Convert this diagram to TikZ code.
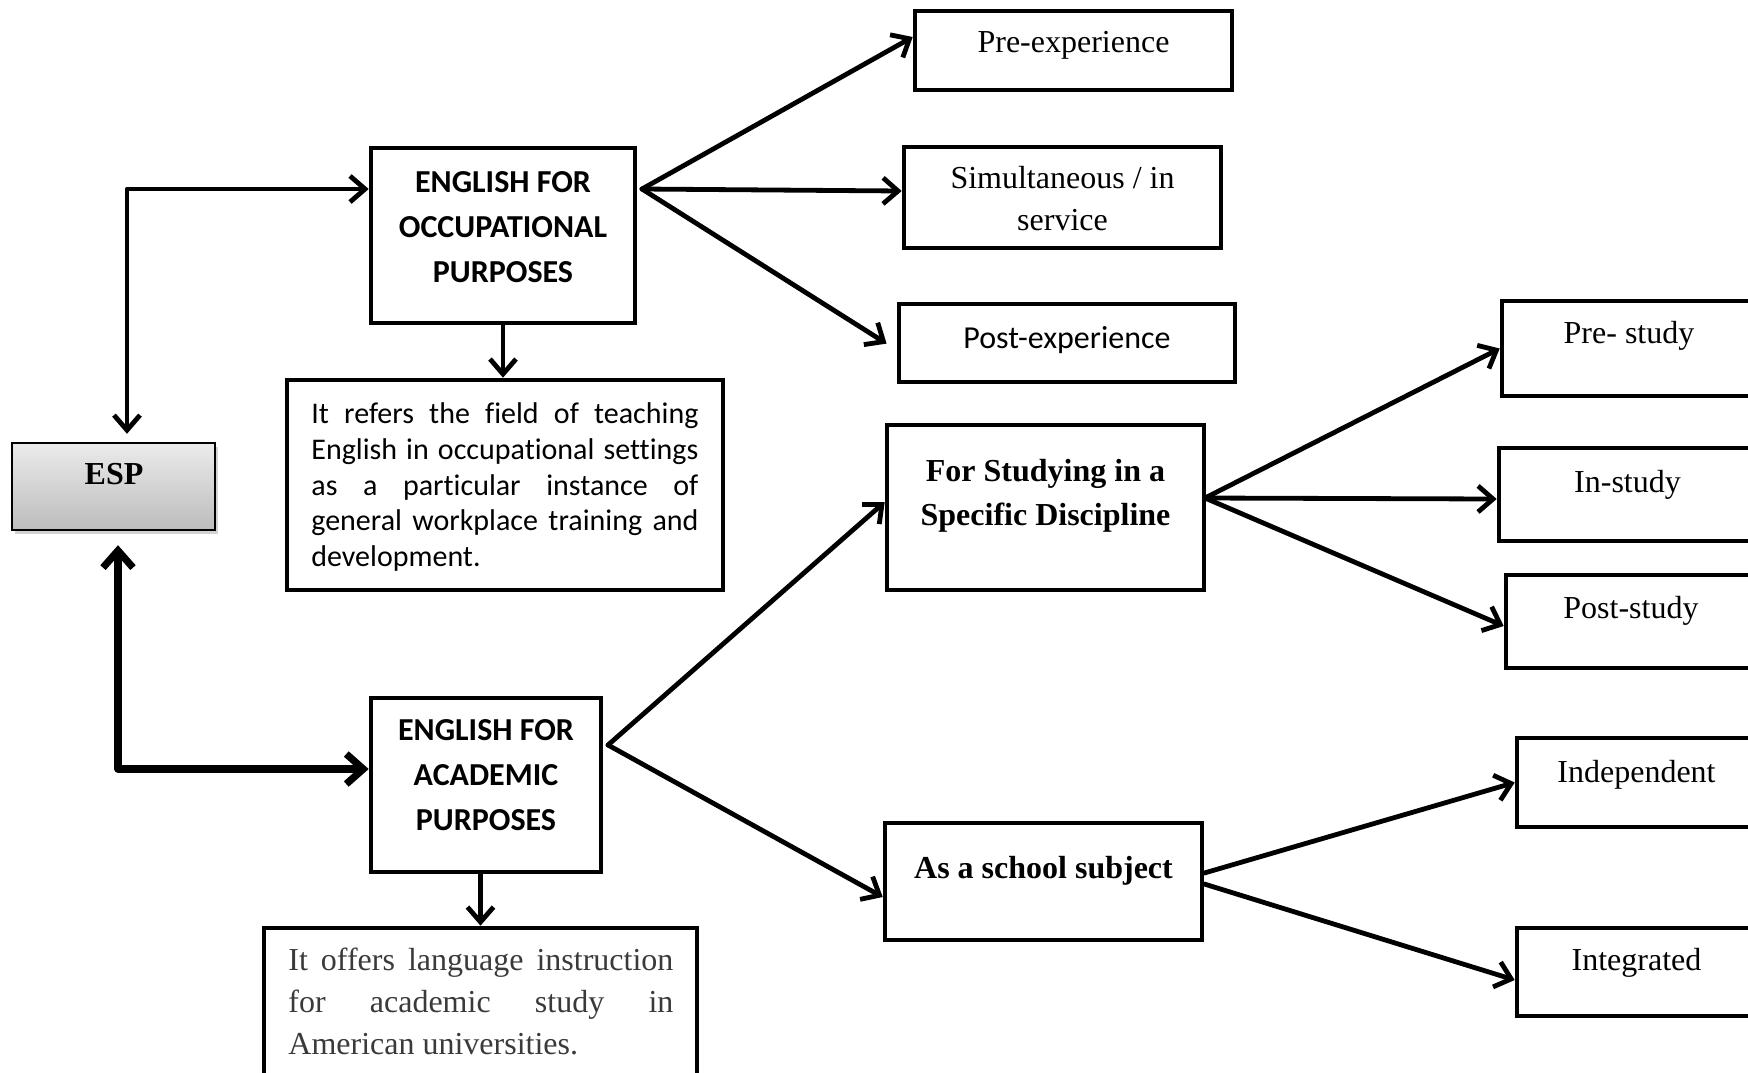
\documentclass[tikz,border=0pt]{standalone}
\usepackage{fontspec}
\setmainfont{Liberation Serif}
\newfontfamily\carlito[Ligatures=NoCommon]{Carlito}
\usetikzlibrary{arrows.meta,shadows}
\definecolor{espTop}{HTML}{EBEBEB}
\definecolor{espBot}{HTML}{BCBCBC}
\definecolor{descGray}{HTML}{3A3A3A}
\newcommand\mybox[6][]{\node[boxst,#1,minimum width={(#4-#2)*0.5pt},minimum height={(#5-#3)*0.5pt}] (#6) at ({(#2+#4)/2},{(#3+#5)/2}) {};}
\begin{document}
\begin{tikzpicture}[x=0.5pt,y=-0.5pt,
  boxst/.style={draw=black, line width=2.3pt, inner sep=0pt, rectangle, fill=white},
  conn/.style={line width=2.4pt, line cap=round, line join=round, -{Straight Barb[length=7.5pt,width=13pt]}},
  tnr/.style={font=\fontsize{16}{19}\selectfont, inner sep=0pt, anchor=base},
  tnrb/.style={font=\bfseries\fontsize{16}{19}\selectfont, inner sep=0pt, anchor=base},
  cal/.style={font=\carlito\fontsize{16}{19}\selectfont, inner sep=0pt, anchor=base},
  calb/.style={font=\carlito\bfseries\fontsize{16}{19}\selectfont, inner sep=0pt, anchor=base}]
\useasboundingbox (0,0) rectangle (1748,1072);
\clip (0,0) rectangle (1748,1072);
\fill[white] (0,0) rectangle (1748,1072);

% boxes
\mybox[line width=1.2pt, top color=espTop, bottom color=espBot, drop shadow={shadow xshift=1.5pt, shadow yshift=-2pt, opacity=0.35}]{12}{443}{215}{530}{esp}
\mybox{371}{148}{635}{323}{eop}
\mybox{287}{380}{723}{590}{eopd}
\mybox{371}{698}{601}{872}{eap}
\mybox{264}{928}{697}{1090}{eapd}
\mybox{915}{11}{1232}{90}{pre}
\mybox{904}{147}{1221}{248}{sim}
\mybox{899}{304}{1235}{382}{post}
\mybox{887}{425}{1204}{590}{fs}
\mybox{885}{823}{1202}{940}{school}
\mybox{1502}{301}{1756}{396}{prest}
\mybox{1499}{448}{1756}{541}{inst}
\mybox{1506}{575}{1756}{668}{postst}
\mybox{1517}{738}{1756}{827}{indep}
\mybox{1517}{928}{1756}{1016}{integ}

% texts
\node[tnrb] (esp-t) at (114,484) {ESP};
\node[calb] (eop-t1) at (503,192) {ENGLISH FOR};
\node[calb] (eop-t2) at (503,237) {OCCUPATIONAL};
\node[calb] (eop-t3) at (503,282) {PURPOSES};
\node[calb] (eap-t1) at (486,740) {ENGLISH FOR};
\node[calb] (eap-t2) at (486,785) {ACADEMIC};
\node[calb] (eap-t3) at (486,830) {PURPOSES};
\node[anchor=north west, inner sep=0pt, text width=193.5pt, align=justify,
      font=\carlito\fontsize{15}{17.9}\selectfont] (eopd-t) at (311,399)
  {\rule{0pt}{12pt}It refers the field of teaching\linebreak English in occupational settings\linebreak as a particular instance of\linebreak general workplace training and\linebreak development.};
\node[anchor=north west, inner sep=0pt, text width=192.5pt, align=justify, text=descGray,
      font=\fontsize{16}{21}\selectfont] (eapd-t) at (288,944)
  {\rule{0pt}{13pt}It offers language instruction\linebreak for academic study in\linebreak American universities.};
\node[tnr] (pre-t) at (1073.5,52) {Pre-experience};
\node[tnr] (sim-t1) at (1062.5,188) {Simultaneous / in};
\node[tnr] (sim-t2) at (1062.5,230) {service};
\node[cal] (post-t) at (1067,348) {Post-experience};
\node[tnrb] (fs-t1) at (1045.5,481) {For Studying in a};
\node[tnrb] (fs-t2) at (1045.5,525) {Specific Discipline};
\node[tnrb] (school-t) at (1043.5,878) {As a school subject};
\node[tnr] (prest-t) at (1629,343) {Pre- study};
\node[tnr] (inst-t) at (1627.5,492) {In-study};
\node[tnr] (postst-t) at (1631,618) {Post-study};
\node[tnr] (indep-t) at (1636.5,782) {Independent};
\node[tnr] (integ-t) at (1636.5,970) {Integrated};

% connectors
\coordinate (c1) at (127,189);
\draw[line width=2.4pt, line cap=round, line join=round, {Straight Barb[length=7.5pt,width=13pt]}-{Straight Barb[length=7.5pt,width=13pt]}, shorten <=4pt]
  (esp.north -| c1) -- (c1) -- (eop.west |- c1);
\coordinate (c2) at (118,769);
\draw[line width=3.6pt, line cap=round, line join=round, {Straight Barb[length=8.5pt,width=15pt]}-{Straight Barb[length=8.5pt,width=15pt]}, shorten <=7pt]
  (esp.south -| c2) -- (c2) -- (eap.west |- c2);

\coordinate (f1) at (642,189);
\draw[conn] (f1) -- ([yshift=6.75pt]pre.west);
\draw[conn] (f1) -- ([yshift=3.25pt]sim.west);
\draw[conn, shorten >=6pt] (f1) -- ([yshift=-3.5pt]post.west);
\draw[conn] (eop.south) -- (eop.south |- eopd.north);

\coordinate (f2) at (608,745);
\draw[conn] (f2) -- ([yshift=2.75pt]fs.west);
\draw[conn] (f2) -- ([yshift=-7.75pt]school.west);
\draw[conn] (eap.south -| eapd.north) -- (eapd.north);

\coordinate (f3) at (1205,498);
\draw[conn] (f3) -- (prest.west);
\draw[conn] (f3) -- ([yshift=-2.25pt]inst.west);
\draw[conn] (f3) -- ([yshift=-2.25pt]postst.west);

\draw[conn] ([yshift=4.25pt]school.east) -- (indep.west);
\draw[conn] ([yshift=-1.25pt]school.east) -- ([yshift=-4pt]integ.west);
\end{tikzpicture}
\end{document}
